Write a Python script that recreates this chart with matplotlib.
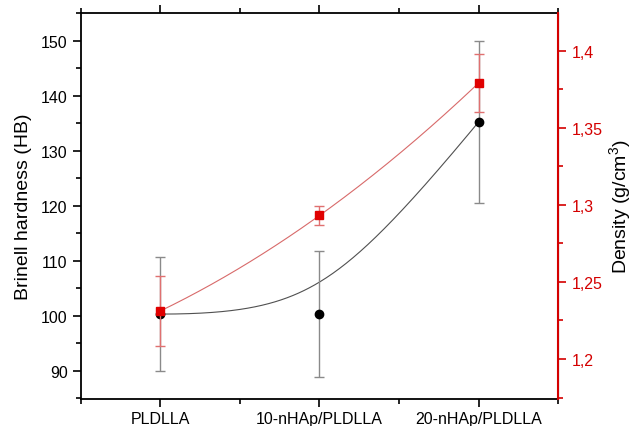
import numpy as np
import matplotlib.pyplot as plt
from matplotlib.ticker import MultipleLocator, FuncFormatter

plt.rcParams['font.family'] = ['Liberation Sans', 'DejaVu Sans']
plt.rcParams['mathtext.fontset'] = 'custom'
plt.rcParams['mathtext.rm'] = 'Liberation Sans'
plt.rcParams['mathtext.it'] = 'Liberation Sans:italic'

# Data
samples = ['PLDLLA', '10-nHAp/PLDLLA', '20-nHAp/PLDLLA']
hardness = [100.3, 100.3, 135.2]
hardness_err = [10.4, 11.5, 14.7]
density = [1.2312, 1.2931, 1.3790]
density_err = [0.0225, 0.0063, 0.019]


# Smooth connecting curve: rational quadratic Bezier using the points as control points
def bezier_curve(xs, ys, w=2.0, n=200):
    t = np.linspace(0, 1, n)
    b0 = (1 - t) ** 2
    b1 = 2 * w * t * (1 - t)
    b2 = t ** 2
    den = b0 + b1 + b2
    bx = (b0 * xs[0] + b1 * xs[1] + b2 * xs[2]) / den
    by = (b0 * ys[0] + b1 * ys[1] + b2 * ys[2]) / den
    return bx, by


# Smooth interpolating curve through all points
def interp_curve(xs, ys, n=200):
    coef = np.polyfit(xs, ys, 2)
    xx = np.linspace(xs[0], xs[-1], n)
    return xx, np.polyval(coef, xx)


x = np.arange(1, len(samples) + 1)
red = '#d40000'

fig = plt.figure(figsize=(6.32, 4.27), dpi=100)
ax1 = fig.add_axes([0.128, 0.063, 0.755, 0.904])
ax2 = ax1.twinx()

# hardness (left axis)
cx, cy = bezier_curve(x, hardness)
ax1.plot(cx, cy, color='#505050', linewidth=0.8, zorder=2)
ax1.errorbar(x, hardness, yerr=hardness_err, fmt='none', ecolor='#8a8a8a',
             elinewidth=1.0, capsize=3.5, capthick=1.0, zorder=3)
ax1.plot(x, hardness, 'o', color='black', markersize=6, zorder=4)

# density (right axis)
dx, dy = interp_curve(x, density)
ax2.plot(dx, dy, color='#d86a6a', linewidth=0.8, zorder=2)
ax2.errorbar(x, density, yerr=density_err, fmt='none', ecolor='#e07070',
             elinewidth=1.0, capsize=3.5, capthick=1.0, zorder=3)
ax2.plot(x, density, 's', color='#e00000', markersize=6, zorder=4)

ax1.set_xlim(0.5, 3.5)
ax1.set_ylim(84.85, 155)
ax2.set_ylim(1.174, 1.4244)

ax1.set_xticks(x)
ax1.set_xticklabels(samples, fontsize=11.5)
ax1.xaxis.set_minor_locator(MultipleLocator(0.5))
ax1.yaxis.set_major_locator(MultipleLocator(10))
ax1.yaxis.set_minor_locator(MultipleLocator(5))
ax2.yaxis.set_major_locator(MultipleLocator(0.05))
ax2.yaxis.set_minor_locator(MultipleLocator(0.025))
ax2.yaxis.set_major_formatter(FuncFormatter(lambda v, p: f'{v:g}'.replace('.', ',')))

ax1.tick_params(axis='y', which='major', length=6, width=1.2, labelsize=11.5)
ax1.tick_params(axis='y', which='minor', length=3.5, width=1.2)
ax1.tick_params(axis='x', which='major', length=6, width=1.2, top=True, pad=2.5)
ax1.tick_params(axis='x', which='minor', length=3.5, width=1.2, top=True)
ax2.tick_params(axis='y', which='major', length=6, width=1.2, colors=red, labelsize=11.5)
ax2.tick_params(axis='y', which='minor', length=3.5, width=1.2, colors=red)

for s in ['left', 'bottom', 'top']:
    ax1.spines[s].set_linewidth(1.3)
ax2.spines['right'].set_color(red)
ax2.spines['right'].set_linewidth(1.5)
for s in ['left', 'bottom', 'top']:
    ax2.spines[s].set_visible(False)

ax1.set_ylabel('Brinell hardness (HB)', fontsize=14)
ax1.yaxis.set_label_coords(-0.103, 0.5)
ax2.set_ylabel('Density (g/cm$^3$)', fontsize=14)
ax2.yaxis.set_label_coords(1.103, 0.5)

ax1.set_zorder(ax2.get_zorder() - 1)
ax2.patch.set_visible(False)
ax1.patch.set_visible(True)
ax1.patch.set_facecolor('white')

fig.savefig('out.png', dpi=100)
